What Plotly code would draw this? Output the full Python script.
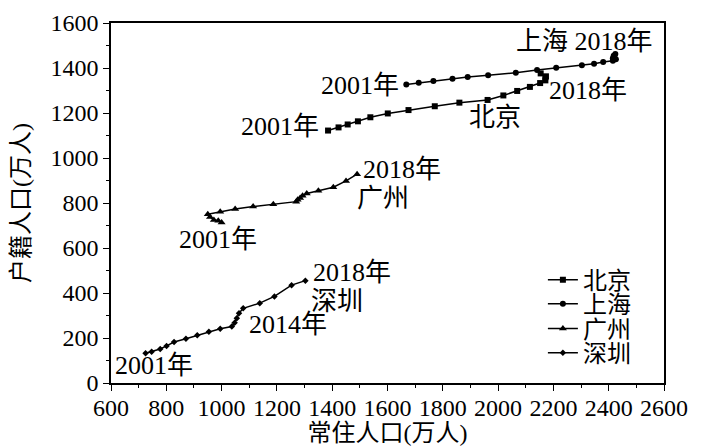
import plotly.graph_objects as go

years = list(range(2001, 2019))

bj_resident = [1385, 1423, 1456, 1493, 1538, 1601, 1676, 1771, 1860, 1962, 2019, 2069, 2115, 2152, 2171, 2173, 2171, 2154]
bj_registered = [1122, 1136, 1149, 1163, 1181, 1198, 1213, 1230, 1246, 1258, 1278, 1298, 1316, 1333, 1345, 1363, 1359, 1376]

sh_resident = [1668, 1713, 1766, 1835, 1890, 1964, 2064, 2141, 2210, 2303, 2347, 2380, 2415, 2426, 2415, 2420, 2418, 2424]
sh_registered = [1327, 1334, 1342, 1352, 1360, 1368, 1379, 1391, 1401, 1412, 1419, 1427, 1432, 1439, 1443, 1450, 1455, 1462]

gz_resident = [1000, 988, 972, 958, 950, 995, 1049, 1114, 1187, 1270, 1275, 1284, 1293, 1308, 1350, 1404, 1450, 1490]
gz_registered = [713, 721, 725, 738, 750, 761, 773, 784, 795, 806, 815, 822, 832, 842, 854, 870, 898, 928]

sz_resident = [725, 747, 778, 801, 828, 871, 912, 954, 995, 1037, 1047, 1055, 1063, 1078, 1138, 1191, 1253, 1303]
sz_registered = [132, 139, 151, 165, 182, 197, 212, 228, 241, 251, 268, 288, 310, 332, 355, 385, 435, 455]

series_names = ["北京", "上海", "广州", "深圳"]
x_tick_vals = list(range(600, 2601, 200))
y_tick_vals = list(range(0, 1601, 200))

label_texts = ["上海 2018年", "2001年", "2018年", "北京", "2001年", "2018年",
               "广州", "2001年", "2018年", "深圳", "2014年", "2001年"]
label_x = [2314, 1501, 2325, 1989, 1211, 1652, 1584, 987, 1472, 1417, 1240, 756]
label_y = [1516, 1324, 1302, 1178, 1138, 947, 818, 636, 493, 364, 258, 76]

FONT = "Liberation Serif, Times New Roman, Noto Sans CJK SC, serif"

fig = go.Figure()
styles = [
    (bj_resident, bj_registered, "square", 6),
    (sh_resident, sh_registered, "circle", 6),
    (gz_resident, gz_registered, "triangle-up", 7),
    (sz_resident, sz_registered, "diamond", 5),
]
legend_ids = ["legend", "legend2", "legend3", "legend4"]
legend_y = [0.286, 0.219, 0.150, 0.083]
for name, lid, (xs, ys, sym, sz) in zip(series_names, legend_ids, styles):
    fig.add_trace(go.Scatter(
        x=xs, y=ys, name=name, mode="lines+markers", legend=lid,
        line=dict(color="black", width=1.5),
        marker=dict(symbol=sym, size=sz, color="black"),
    ))

for text, x, y in zip(label_texts, label_x, label_y):
    fig.add_annotation(x=x, y=y, text=text, showarrow=False,
                       xref="x", yref="y",
                       font=dict(family=FONT, size=26, color="black"))

legend_common = dict(x=0.781, xanchor="left", yanchor="middle",
                     bgcolor="rgba(0,0,0,0)", font=dict(family=FONT, size=24, color="black"),
                     itemwidth=30)
layout_legends = {}
for lid, ly in zip(legend_ids, legend_y):
    layout_legends[lid] = dict(y=ly, **legend_common)

# page body has an 8px default margin, so the figure is sized to fit the window
fig.update_layout(
    width=699, height=438,
    margin=dict(l=103, r=43, t=15, b=63),
    paper_bgcolor="white", plot_bgcolor="white",
    font=dict(family=FONT, size=24, color="black"),
    showlegend=True,
    **layout_legends,
)
fig.update_xaxes(
    range=[600, 2600], tickvals=x_tick_vals, automargin=False,
    ticks="outside", ticklen=6, tickwidth=1.2, tickcolor="black",
    minor=dict(dtick=100, ticks="outside", ticklen=3, tickcolor="black", tickwidth=1),
    showline=True, linecolor="black", linewidth=1.5, mirror=True,
    showgrid=False, zeroline=False, ticklabelstandoff=-4,
    title=dict(text="常住人口(万人)", standoff=5, font=dict(size=24)),
    tickfont=dict(size=24),
)
fig.update_yaxes(
    range=[0, 1600], tickvals=y_tick_vals, automargin=False,
    ticks="outside", ticklen=6, tickwidth=1.2, tickcolor="black",
    minor=dict(dtick=100, ticks="outside", ticklen=3, tickcolor="black", tickwidth=1),
    showline=True, linecolor="black", linewidth=1.5, mirror=True,
    showgrid=False, zeroline=False,
    title=dict(text="户籍人口(万人)", standoff=16, font=dict(size=24)),
    tickfont=dict(size=24),
)

fig.write_html("out.html")
